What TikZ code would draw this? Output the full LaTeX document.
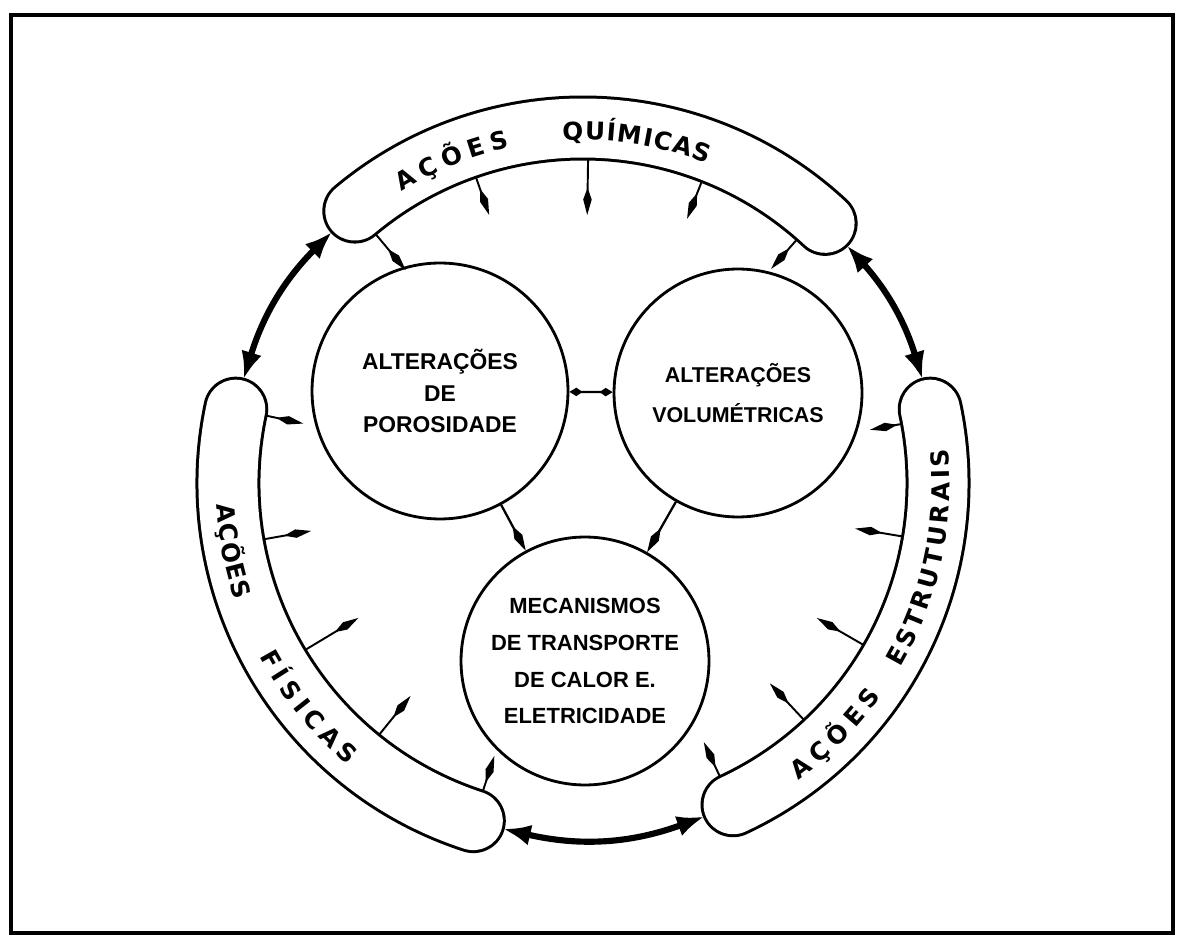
\documentclass[tikz,border=0pt]{standalone}
\usepackage{fontspec}
\setmainfont{Liberation Sans}
\newfontfamily\bandfont{DejaVu Sans}
\usetikzlibrary{arrows.meta, decorations.text}

\newcommand\bandletters{\bandfont\bfseries\fontsize{14}{16}\selectfont}

\begin{document}
\begin{tikzpicture}[
    x=0.02cm, y=0.02cm,
    bubble/.style={circle, draw, line width=1.6pt, inner sep=0pt, align=center},
    band/.style={line width=1.30cm, line cap=round},
    bandwhite/.style={white, line width=1.18cm, line cap=round},
    bandtext/.style={decorate, decoration={text along path, text align=fit to path, text={|\bandletters|#1}}},
    push/.style={line width=1.1pt, -{Kite[length=5.5mm, width=1.7mm, inset=2.4mm]}},
    linkarrow/.style={line width=1.3pt, -{Kite[length=5.5mm, width=1.8mm, inset=2.4mm]}},
    shortlink/.style={line width=1.3pt, {Kite[length=2.6mm, width=1.7mm, inset=1.2mm]}-{Kite[length=2.6mm, width=1.7mm, inset=1.2mm]}},
    ringarrow/.style={line width=3.5pt, {Latex[length=5.5mm, width=4.2mm]}-{Latex[length=5.5mm, width=4.2mm]}}
]

\useasboundingbox (0,0) rectangle (1179,937);

% Frame
\draw[line width=2.3pt] (11,4) rectangle (1173,922);

\begin{scope}[shift={(583,454)}]

% Bands (outline, then white inside)
\draw[band] (47:355) arc[start angle=47, end angle=130, radius=355];
\draw[band] (168:355) arc[start angle=168, end angle=252, radius=355];
\draw[band] (-65:355) arc[start angle=-65, end angle=12, radius=355];
\draw[bandwhite] (47:355) arc[start angle=47, end angle=130, radius=355];
\draw[bandwhite] (168:355) arc[start angle=168, end angle=252, radius=355];
\draw[bandwhite] (-65:355) arc[start angle=-65, end angle=12, radius=355];

% Band labels
\path[bandtext=AÇÕES] (122:343) arc[start angle=122, end angle=102.3, radius=343];
\path[bandtext=QUÍMICAS] (93.4:343) arc[start angle=93.4, end angle=68.7, radius=343];
\path[bandtext=AÇÕES] (183.4:367) arc[start angle=183.4, end angle=198.6, radius=367];
\path[bandtext=FÍSICAS] (208.2:367) arc[start angle=208.2, end angle=230.2, radius=367];
\path[bandtext=AÇÕES] (-54.1:367) arc[start angle=-54.1, end angle=-35.6, radius=367];
\path[bandtext=ESTRUTURAIS] (-30.2:367) arc[start angle=-30.2, end angle=5.4, radius=367];

% Inward arrows from the bands
\foreach \a/\l [count=\i] in {48.7/39, 68.5/40, 89.1/56, 109.3/40, 129.8/47} {
    \coordinate (qs\i) at (\a:324);
    \coordinate (qe\i) at (\a:{324-\l});
    \draw[push] (qs\i) -- (qe\i);
}
\foreach \a/\l [count=\i] in {168/38, 190/48, 211/62, 231/50, 252/37} {
    \coordinate (fs\i) at (\a:324);
    \coordinate (fe\i) at (\a:{324-\l});
    \draw[push] (fs\i) -- (fe\i);
}
\foreach \a/\l [count=\i] in {10.5/32, -9.5/48, -30/54, -47/50, -65/38} {
    \coordinate (es\i) at (\a:324);
    \coordinate (ee\i) at (\a:{324-\l});
    \draw[push] (es\i) -- (ee\i);
}

% Band ends and the arrows between them
\coordinate (qL) at (135:355);
\coordinate (qR) at (42:355);
\coordinate (fT) at (163:355);
\coordinate (fB) at (257:355);
\coordinate (eB) at (290:355);
\coordinate (eT) at (17:355);
\draw[ringarrow] (qL) to[bend right=14] (fT);
\draw[ringarrow] (fB) to[bend right=16.5] (eB);
\draw[ringarrow] (eT) to[bend right=12.5] (qR);

\end{scope}

% Circles
\node[bubble, minimum size=5.12cm, font=\bfseries\fontsize{13}{18}\selectfont] (poro) at (440,546) {ALTERAÇÕES\\DE\\POROSIDADE};
\node[bubble, minimum size=4.96cm, font=\bfseries\fontsize{12.2}{23}\selectfont] (volu) at (738,544) {ALTERAÇÕES\\VOLUMÉTRICAS};
\node[bubble, minimum size=4.96cm, font=\bfseries\fontsize{12.5}{21}\selectfont] (mec) at (585,276) {MECANISMOS\\DE TRANSPORTE\\DE CALOR E.\\ELETRICIDADE};

% Links between circles
\draw[linkarrow] (poro) -- (mec);
\draw[linkarrow] (volu) -- (mec);
\draw[shortlink] (volu) -- (poro);

\end{tikzpicture}
\end{document}
